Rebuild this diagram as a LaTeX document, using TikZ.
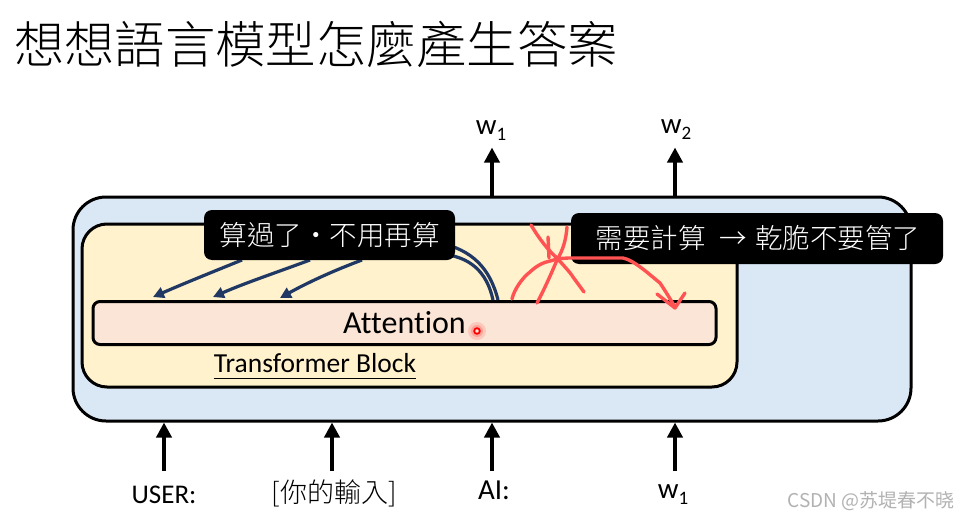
\documentclass[tikz,border=0pt]{standalone}
\usepackage{fontspec}
\setmainfont[Ligatures=NoCommon]{Carlito}
\newfontfamily\tcfont{Noto Sans CJK TC}
\newfontfamily\tclight{Noto Sans CJK TC Light}
\newfontfamily\scfont{Noto Sans CJK SC}
\usetikzlibrary{arrows.meta,calc}
\definecolor{outerblue}{HTML}{DAE8F5}
\definecolor{inneryellow}{HTML}{FFF2CC}
\definecolor{attnpeach}{HTML}{FBE5D6}
\definecolor{navyline}{HTML}{1F3864}
\definecolor{penred}{HTML}{FF5252}
\newcommand{\fs}[1]{\fontsize{#1}{#1}\selectfont}
\newcommand{\wsub}[1]{w{\fs{19}\raisebox{-6pt}{#1}}}
\tikzset{
  x=1pt,y=-1pt,
  box/.style={draw=black,line width=3pt,inner sep=0pt},
  callout/.style={fill=black,text=white,rounded corners=8pt,inner sep=0pt,font=\tclight\fs{27.5}},
  label/.style={text=black,inner sep=0pt},
  flow/.style={-{Triangle[width=15pt,length=15pt]},line width=4pt,black},
  nav/.style={navyline,line width=3.2pt},
  navtip/.style={nav,-{Triangle[width=11pt,length=11pt]}},
  ink/.style={penred,line width=3.4pt,line cap=round,line join=round},
}
\begin{document}
\begin{tikzpicture}
\useasboundingbox (0,0) rectangle (958,519);
\fill[white] (0,0) rectangle (958,519);
% title
\node[label,anchor=west,font=\tclight\fs{50.3}] (title) at (14,44) {想想語言模型怎麼產生答案};
% blocks
\node[box,fill=outerblue,rounded corners=33pt,minimum width=838pt,minimum height=224pt] (outer) at (492,309) {};
\node[box,fill=inneryellow,rounded corners=25pt,minimum width=655pt,minimum height=163pt] (inner) at (409.5,305.5) {};
\node[box,fill=attnpeach,rounded corners=7pt,minimum width=623pt,minimum height=43pt,font=\fs{32}] (attn) at (404.5,323) {Attention};
\node[label,font=\fs{27.5}] (tb) at (315,363) {Transformer Block};
\draw[black,line width=0.8pt] ($(tb.west)+(0,15)$) coordinate (ula) -- ($(tb.east)+(0,15)$) coordinate (ulb);
% outputs
\node[label,font=\fs{29}] (w1top) at (491,131) {\wsub{1}};
\node[label,font=\fs{29}] (w2top) at (676,130) {\wsub{2}};
\draw[flow] (outer.north -| w1top) ++(1,0) coordinate (o1) -- ++(0,-48);
\draw[flow] (outer.north -| w2top) ++(-1,0) coordinate (o2) -- ++(0,-48);
% inputs
\node[label,font=\fs{27}] (user) at (164,495) {USER:};
\node[label,font=\tclight\fs{27}] (prompt) at (334,493) {[你的輸入]};
\node[label,font=\fs{29}] (ai) at (494,490) {AI:};
\node[label,font=\fs{29}] (w1in) at (673,495) {\wsub{1}};
\foreach \n/\x in {user/164,prompt/332,ai/492,w1in/675}{
  \coordinate (s\n) at (\x,471);
  \draw[flow] (s\n) -- (s\n |- outer.south);
}
% navy arrows
\coordinate (na) at (242,260); \coordinate (nb) at (310,260); \coordinate (nc) at (362,260);
\coordinate (ta) at (153,297); \coordinate (tb2) at (213,297); \coordinate (tc) at (280,298);
\draw[navtip] (na) .. controls (215,271) and (185,283) .. (ta);
\draw[navtip] (nb) .. controls (275,273) and (245,283) .. (tb2);
\draw[navtip] (nc) .. controls (330,272) and (305,284) .. (tc);
\draw[nav] (440,243) .. controls (472,250) and (490,268) .. (498,300);
\draw[nav] (440,254) .. controls (470,256) and (487,272) .. (493,300);
% callouts
\node[callout,minimum width=251pt,minimum height=50pt] (c1) at (329.5,235) {算過了·不用再算};
\node[callout,minimum width=372pt,minimum height=51pt] (c2) at (757,238.5) {\hspace*{2pt}需要計算\hspace{14pt}→\hspace{8pt}乾脆不要管了};
% red pen marks
\draw[ink] (512,299) .. controls (514,290) and (522,278) .. (530,272) .. controls (536,266) and (544,262) .. (550,261) .. controls (560,258) and (566,258) .. (573,258) -- (623,258) .. controls (634,260) and (650,275) .. (660,283) .. controls (666,292) and (672,302) .. (675,307);
\draw[ink] (657,294) -- (675,308) -- (685,293);
\draw[ink] (531,225) .. controls (540,240) and (548,250) .. (557,258) .. controls (563,265) and (570,272) .. (573,277) -- (584,292);
\draw[ink] (567,227) .. controls (566,240) and (563,250) .. (557,260) .. controls (552,272) and (544,290) .. (537,303);
\draw[ink] (548,237) -- (549,258);
% laser pointer
\fill[red,opacity=0.12] (477,331) circle (9pt);
\fill[red,opacity=0.18] (477,331) circle (6pt);
\draw[red,line width=1.8pt,fill=attnpeach] (477,331) circle (2.8pt);
% watermark
\node[label,text=black!30,font=\scfont\fs{19},anchor=east] (mark) at (955,501) {CSDN @苏堤春不晓};
\end{tikzpicture}
\end{document}
